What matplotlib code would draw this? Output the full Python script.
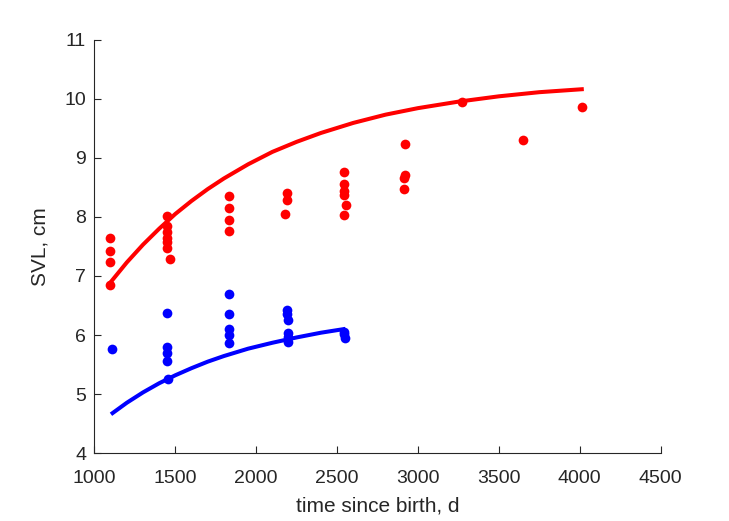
import numpy as np
import matplotlib.pyplot as plt

# Observed SVL, red group
red_t = [1096, 1096, 1096, 1096,
         1450, 1450, 1450, 1450, 1450, 1450, 1465,
         1832, 1832, 1832, 1832,
         2188, 2188, 2180,
         2543, 2543, 2543, 2543, 2555, 2543,
         2917, 2917, 2915, 2915,
         3274, 3648, 4013]
red_svl = [7.65, 7.42, 7.24, 6.84,
           8.01, 7.85, 7.75, 7.65, 7.58, 7.47, 7.29,
           8.36, 8.15, 7.94, 7.76,
           8.40, 8.29, 8.05,
           8.76, 8.55, 8.43, 8.37, 8.20, 8.04,
           9.23, 8.71, 8.65, 8.47,
           9.95, 9.30, 9.86]

# Observed SVL, blue group
blue_t = [1108,
          1450, 1450, 1450, 1450, 1452,
          1830, 1830, 1830, 1830, 1830,
          2192, 2192, 2194, 2196, 2196, 2196,
          2543, 2545, 2546]
blue_svl = [5.76,
            6.38, 5.80, 5.69, 5.56, 5.26,
            6.69, 6.35, 6.10, 6.00, 5.86,
            6.43, 6.36, 6.25, 6.04, 5.96, 5.88,
            6.06, 6.02, 5.95]

# Fitted growth curves
red_fit_t = [1091, 1200, 1300, 1400, 1500, 1600, 1700, 1800, 1950, 2100,
             2250, 2400, 2600, 2800, 3000, 3250, 3500, 3750, 4013]
red_fit_svl = [6.865, 7.23, 7.53, 7.80, 8.05, 8.27, 8.47, 8.65, 8.89, 9.10,
               9.27, 9.42, 9.59, 9.73, 9.84, 9.95, 10.04, 10.11, 10.16]

blue_fit_t = [1112, 1200, 1300, 1400, 1500, 1600, 1700, 1800, 1950, 2100,
              2250, 2400, 2539]
blue_fit_svl = [4.68, 4.855, 5.03, 5.185, 5.32, 5.44, 5.55, 5.645, 5.77, 5.87,
                5.96, 6.04, 6.10]

plt.rcParams['font.family'] = ['Liberation Sans', 'DejaVu Sans']

fig = plt.figure(figsize=(7.29, 5.21), dpi=100)
ax = fig.add_axes([0.1296, 0.130, 0.7765, 0.794])

ax.plot(red_t, red_svl, 'o', color=(1, 0, 0), markersize=7, markeredgewidth=0)
ax.plot(blue_t, blue_svl, 'o', color=(0, 0, 1), markersize=7, markeredgewidth=0)
ax.plot(red_fit_t, red_fit_svl, '-', color=(1, 0, 0), linewidth=2.9)
ax.plot(blue_fit_t, blue_fit_svl, '-', color=(0, 0, 1), linewidth=2.9)

ax.set_xlim(1000, 4500)
ax.set_ylim(4, 11)
ax.set_xticks(np.arange(1000, 4501, 500))
ax.set_yticks(np.arange(4, 12, 1))

dark = (0.15, 0.15, 0.15)
for side in ['top', 'right']:
    ax.spines[side].set_visible(False)
for side in ['left', 'bottom']:
    ax.spines[side].set_color(dark)
    ax.spines[side].set_linewidth(0.8)
ax.tick_params(direction='in', length=5, width=0.8, colors=dark, labelsize=14)
ax.tick_params(axis='x', pad=12)
ax.tick_params(axis='y', pad=6)

ax.set_xlabel('time since birth, d', fontsize=15, color=dark, labelpad=7)
ax.set_ylabel('SVL, cm', fontsize=15, color=dark, labelpad=11)

fig.savefig('out.png', dpi=100)
